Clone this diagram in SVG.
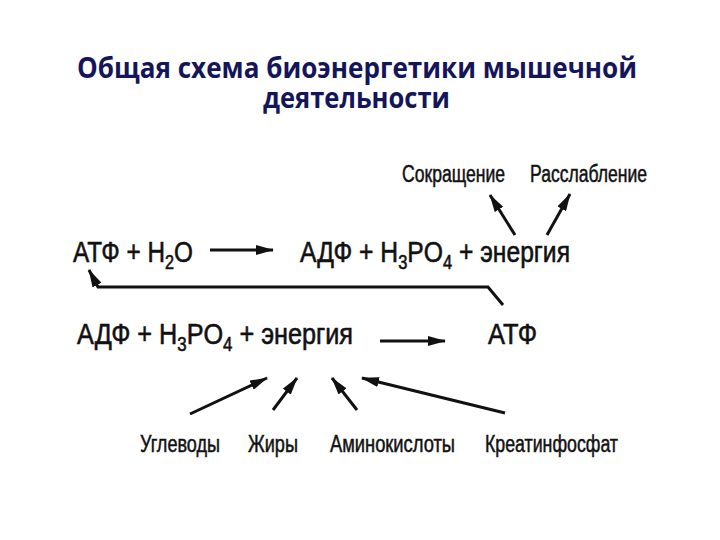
<svg xmlns="http://www.w3.org/2000/svg" width="720" height="540" viewBox="0 0 720 540">
<defs>
<style>
.title{font-family:"Open Sans","Noto Sans",sans-serif;font-weight:bold;font-size:29px;fill:#15155a}
.f{font-family:"Liberation Sans",Arial,sans-serif;font-size:30px;fill:#111;stroke:#111;stroke-width:0.6}
.sub{font-size:20px}
.lbl{font-family:"Liberation Sans",Arial,sans-serif;font-size:23px;fill:#111;stroke:#111;stroke-width:0.5}
.c{stroke:#111;stroke-width:3;fill:none;marker-end:url(#ah)}
</style>
<marker id="ah" markerUnits="userSpaceOnUse" markerWidth="18" markerHeight="10" refX="17" refY="5" orient="auto" viewBox="0 0 18 10">
<path d="M0,0 L18,5 L0,10 z" fill="#111"/>
</marker>
</defs>
<rect width="720" height="540" fill="#fff"/>
<g id="title">
<text class="title" x="77" y="78" textLength="560" lengthAdjust="spacingAndGlyphs">Общая схема биоэнергетики мышечной</text>
<text class="title" x="263" y="108" textLength="187" lengthAdjust="spacingAndGlyphs">деятельности</text>
</g>
<g id="atp-h2o"><text class="f" x="73" y="262" textLength="120" lengthAdjust="spacingAndGlyphs">АТФ + H<tspan class="sub" dy="7">2</tspan><tspan dy="-7">O</tspan></text></g>
<g id="adp-top"><text class="f" x="300" y="262" textLength="270" lengthAdjust="spacingAndGlyphs">АДФ + H<tspan class="sub" dy="7">3</tspan><tspan dy="-7">PO</tspan><tspan class="sub" dy="7">4</tspan><tspan dy="-7"> + энергия</tspan></text></g>
<g id="adp-bottom"><text class="f" x="77" y="344" textLength="276" lengthAdjust="spacingAndGlyphs">АДФ + H<tspan class="sub" dy="7">3</tspan><tspan dy="-7">PO</tspan><tspan class="sub" dy="7">4</tspan><tspan dy="-7"> + энергия</tspan></text></g>
<g id="atp-bottom"><text class="f" x="488" y="344" textLength="49" lengthAdjust="spacingAndGlyphs">АТФ</text></g>
<g id="contraction"><text class="lbl" x="402" y="182" textLength="103" lengthAdjust="spacingAndGlyphs">Сокращение</text></g>
<g id="relaxation"><text class="lbl" x="530" y="182" textLength="117" lengthAdjust="spacingAndGlyphs">Расслабление</text></g>
<g id="carbs"><text class="lbl" x="140" y="452" textLength="80" lengthAdjust="spacingAndGlyphs">Углеводы</text></g>
<g id="fats"><text class="lbl" x="248" y="452" textLength="50" lengthAdjust="spacingAndGlyphs">Жиры</text></g>
<g id="amino"><text class="lbl" x="330" y="452" textLength="125" lengthAdjust="spacingAndGlyphs">Аминокислоты</text></g>
<g id="creatine"><text class="lbl" x="485" y="452" textLength="133" lengthAdjust="spacingAndGlyphs">Креатинфосфат</text></g>
<g id="connectors">
<line class="c" x1="210" y1="250" x2="273" y2="250"/>
<line class="c" x1="380" y1="341" x2="445" y2="341"/>
<polyline class="c" points="503,305 488,287 98,287 89,270"/>
<line class="c" x1="515" y1="235" x2="490" y2="195"/>
<line class="c" x1="547" y1="235" x2="570" y2="194"/>
<line class="c" x1="190" y1="414" x2="267" y2="378"/>
<line class="c" x1="273" y1="410" x2="297" y2="378"/>
<line class="c" x1="357" y1="410" x2="332" y2="378"/>
<line class="c" x1="505" y1="413" x2="362" y2="378"/>
</g>
</svg>
